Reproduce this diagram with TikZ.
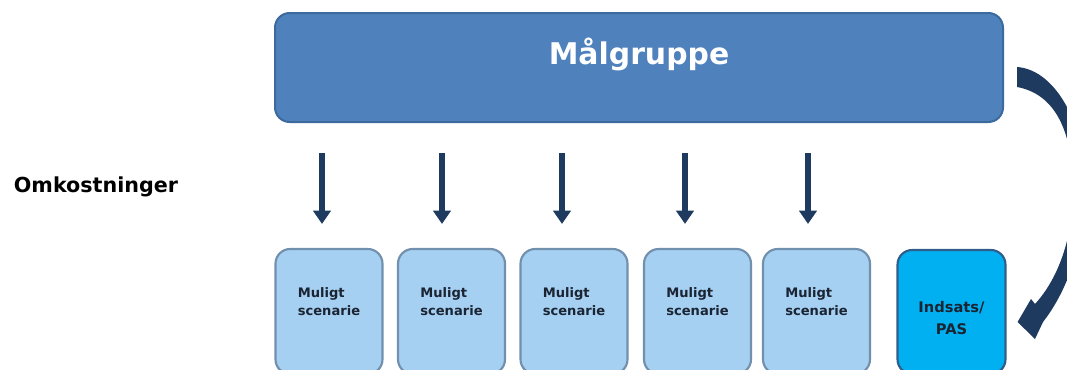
\documentclass[tikz,border=0pt]{standalone}
\usepackage{fontspec}
\setmainfont{DejaVu Sans}
\usetikzlibrary{arrows.meta,calc}

\definecolor{topfyld}{HTML}{4F81BD}
\definecolor{toprand}{HTML}{3C6A9C}
\definecolor{lysfyld}{HTML}{A6D0F1}
\definecolor{lysrand}{HTML}{7190AE}
\definecolor{indsfyld}{HTML}{00B0F0}
\definecolor{indsrand}{HTML}{2F5D8C}
\definecolor{mork}{HTML}{1F3A5F}
\definecolor{tekst}{HTML}{1A2433}

\tikzset{
  maalboks/.style={draw=toprand, line width=1.5pt, fill=topfyld, rounded corners=11pt,
    minimum width=546pt, minimum height=81.75pt, inner sep=0pt, text=white,
    font=\bfseries\fontsize{22.4}{26}\selectfont, text height=16.3pt, text depth=20.1pt},
  scenboks/.style={draw=lysrand, line width=1.6pt, fill=lysfyld, rounded corners=11pt,
    minimum width=80.25pt, minimum height=93.75pt, inner sep=0pt, text=tekst, align=left,
    font=\bfseries\fontsize{9.8}{13.5}\selectfont, text height=7.1pt, text depth=1.5pt},
  indsboks/.style={draw=indsrand, line width=1.6pt, fill=indsfyld, rounded corners=11pt,
    minimum width=81pt, minimum height=93pt, inner sep=0pt, text=tekst, align=center,
    font=\bfseries\fontsize{11}{16.5}\selectfont, text height=33.5pt, text depth=0pt},
  pil/.style={draw=mork, line width=5pt, -{Triangle[width=13pt,length=10pt]},
    shorten <=22.5pt, shorten >=18pt}
}

\begin{document}
\begin{tikzpicture}[x=0.75pt,y=-0.75pt]
    \useasboundingbox (0,0) rectangle (1067,369);
    % top box and side label
    \node [maalboks] (malgruppe) at (639,67.5) {Målgruppe};
    \node [font=\bfseries\fontsize{15.5}{18}\selectfont] (omk) at (96,187) {Omkostninger};
    % scenarios
    \node [scenboks] (s1) at (329,311.5) {Muligt\\scenarie};
    \node [scenboks] (s2) at (451.5,311.5) {Muligt\\scenarie};
    \node [scenboks] (s3) at (574,311.5) {Muligt\\scenarie};
    \node [scenboks] (s4) at (697.5,311.5) {Muligt\\scenarie};
    \node [scenboks] (s5) at (816.5,311.5) {Muligt\\scenarie};
    \node [indsboks] (indsats) at (951.5,312) {Indsats/\\PAS};
    % straight arrows
    \foreach \b/\dx in {s1/-7,s2/-9.5,s3/-12,s4/-12.5,s5/-8.5}
        \draw [pil] ([xshift=\dx*0.75pt]\b.north |- malgruppe.south) -- ([xshift=\dx*0.75pt]\b.north);
    % curved arrow
    \coordinate (bueStart) at ([xshift=9.75pt,yshift=-7.1pt]malgruppe.east);
    \coordinate (bueSpids) at ([xshift=8.25pt,yshift=-7.5pt]indsats.east);
    \fill [mork] ($(bueStart)+(0,-10)$) .. controls (1058,70) and (1085,130) .. (1085,180)
        .. controls (1086,240) and (1068,290) .. (1043,322) -- (1035,339) -- (bueSpids)
        -- (1031,299) -- (1035,304) .. controls (1057,280) and (1073,240) .. (1073,190)
        .. controls (1073,140) and (1060,95) .. ($(bueStart)+(0,10)$) -- cycle;
\end{tikzpicture}
\end{document}
